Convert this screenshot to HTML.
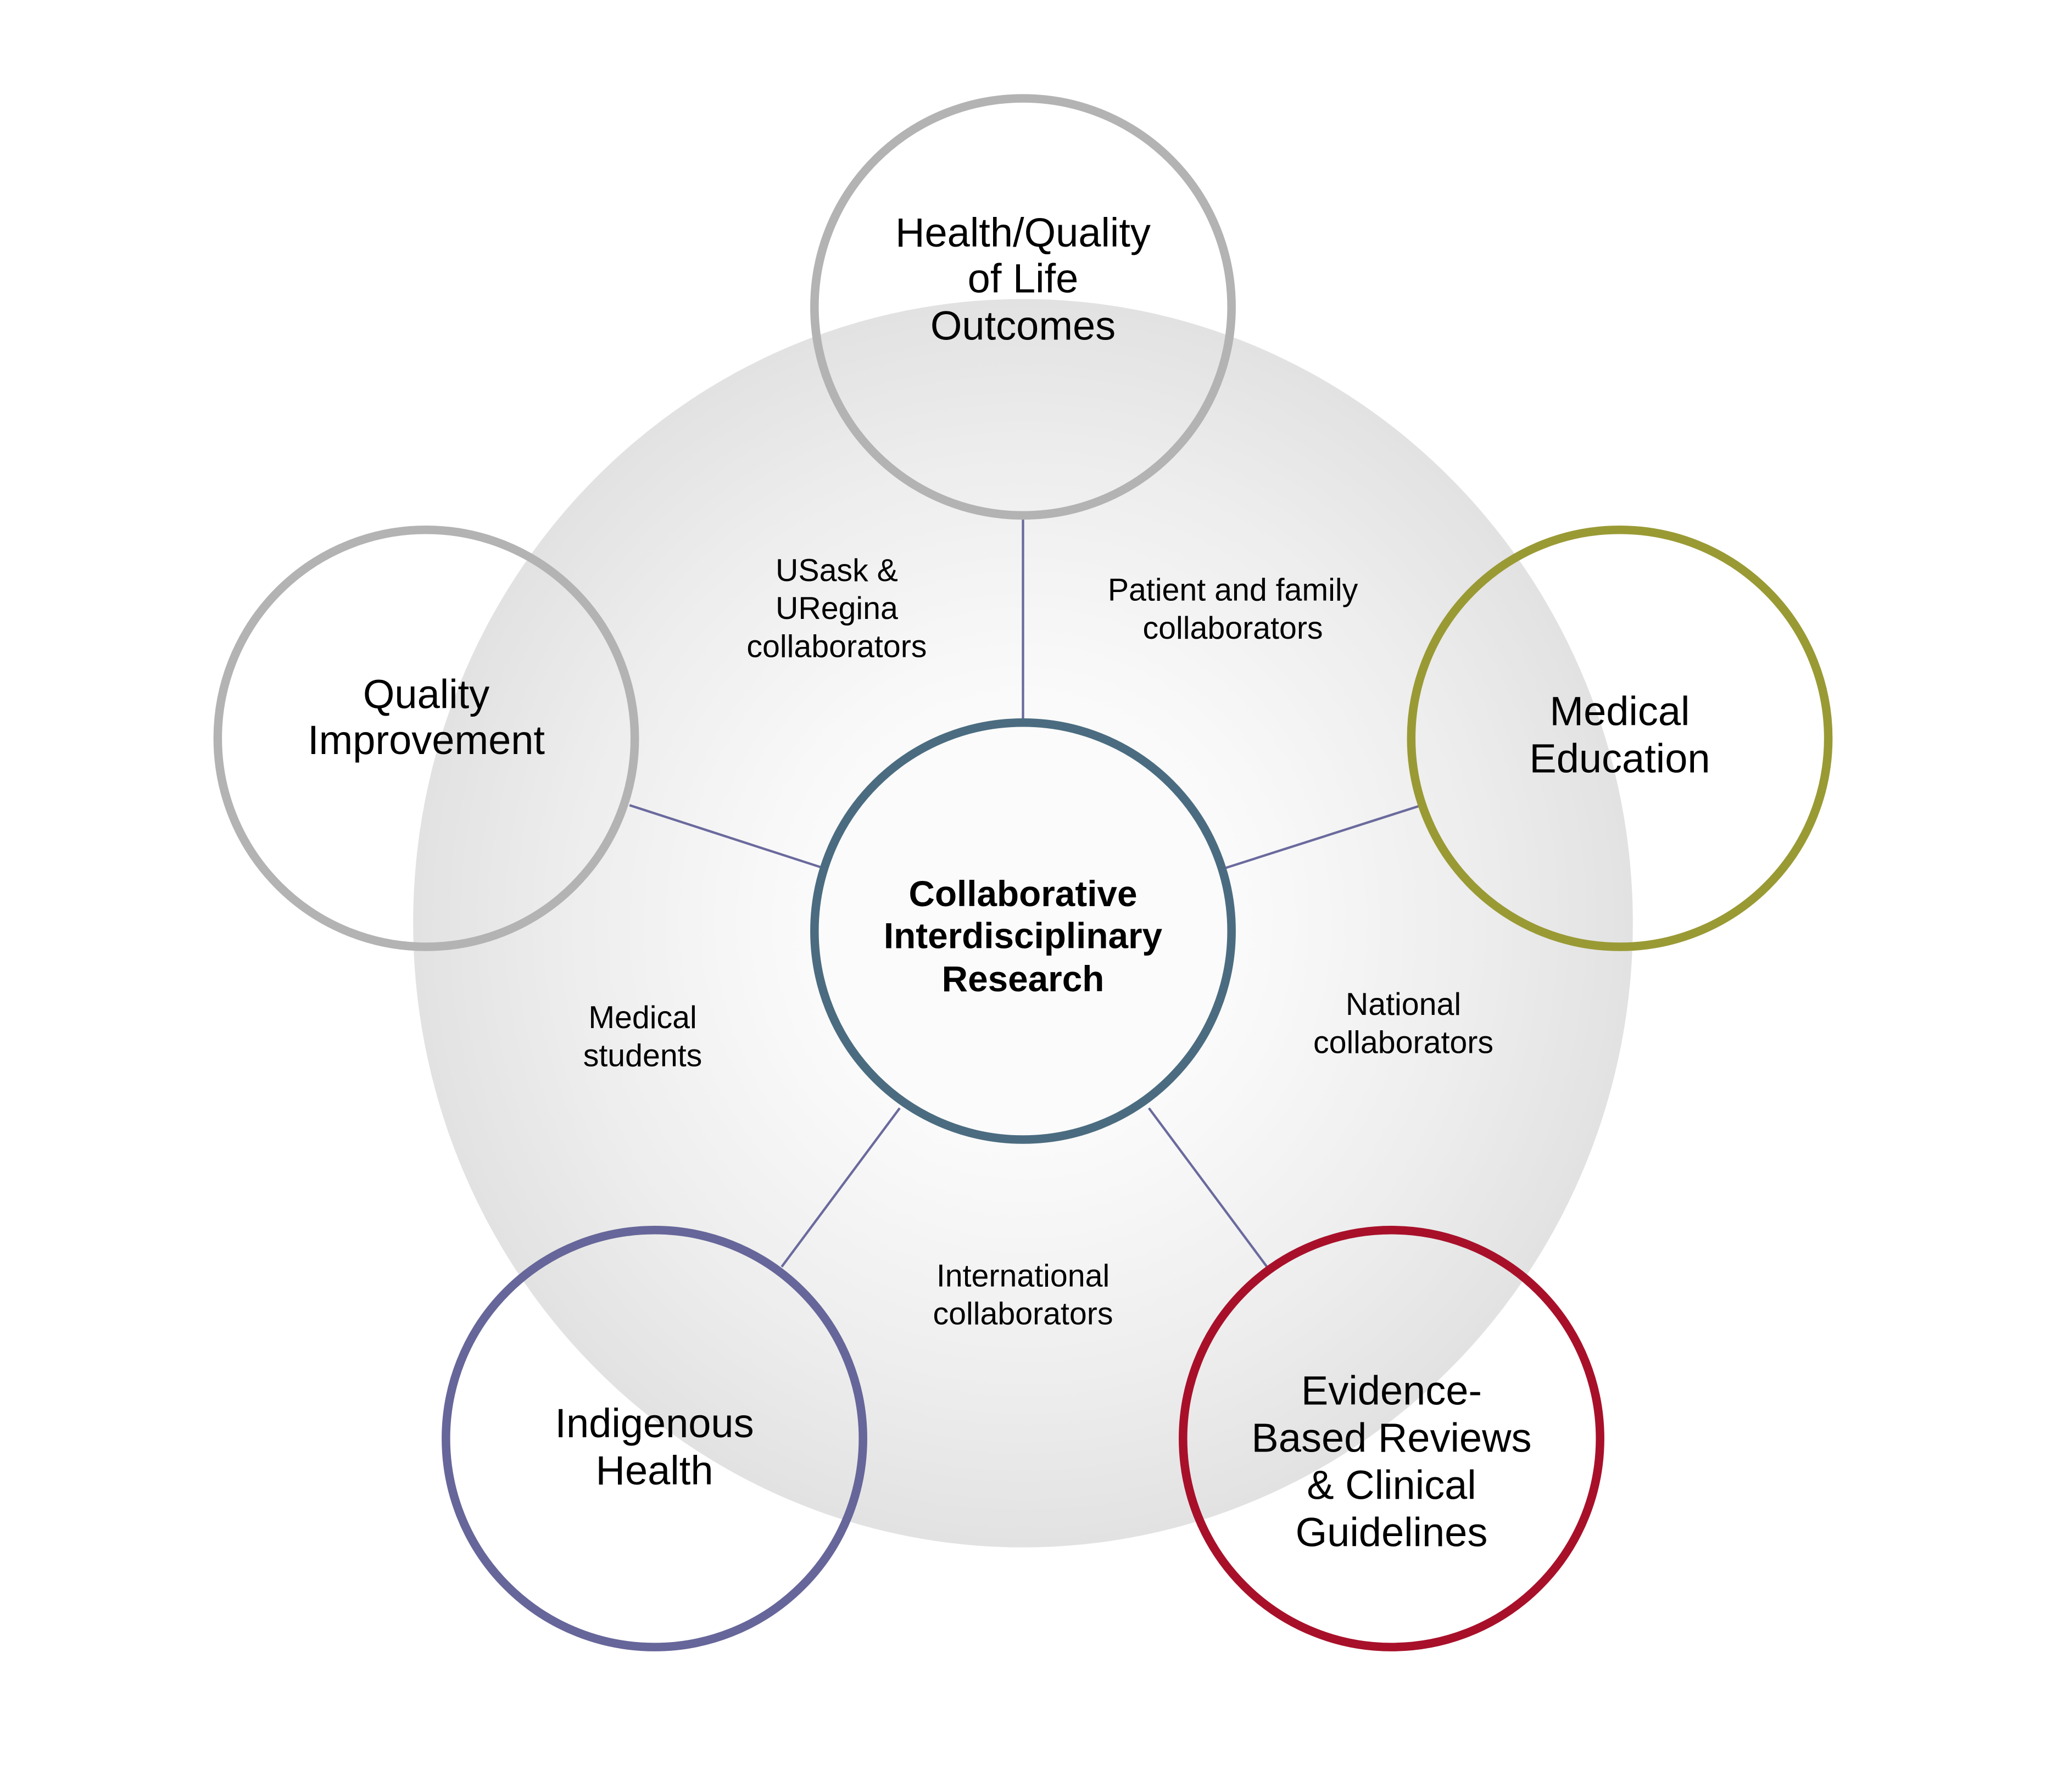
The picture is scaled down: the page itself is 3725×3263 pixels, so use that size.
<!DOCTYPE html>
<html><head><meta charset="utf-8"><style>html,body{margin:0;padding:0;background:#fff}svg{display:block}</style></head>
<body>
<svg width="3725" height="3263" viewBox="0 0 1560 1366.5" xmlns="http://www.w3.org/2000/svg" font-family="'Liberation Sans', Arial, sans-serif">
<defs>
<radialGradient id="g" cx="0.5" cy="0.5" r="0.5">
<stop offset="0" stop-color="#ffffff"/>
<stop offset="0.4" stop-color="#f9f9f9"/>
<stop offset="0.75" stop-color="#ededed"/>
<stop offset="1" stop-color="#e2e2e2"/>
</radialGradient>
</defs>
<rect width="1560" height="1366.5" fill="#fff"/>
<ellipse cx="780" cy="704" rx="465" ry="476" fill="url(#g)"/>
<g stroke="#6a6a9e" stroke-width="1.8">
<line x1="780" y1="394" x2="780" y2="550"/>
<line x1="480" y1="614" x2="628" y2="662"/>
<line x1="1084" y1="614" x2="934" y2="662"/>
<line x1="596" y1="966" x2="686" y2="845"/>
<line x1="966" y1="966" x2="876" y2="845"/>
</g>
<g fill="none" stroke-width="6.5">
<circle cx="780" cy="234" r="159" stroke="#b3b3b3"/>
<circle cx="325" cy="563" r="159" stroke="#b3b3b3"/>
<circle cx="1235" cy="563" r="159" stroke="#9a9a35"/>
<circle cx="499" cy="1097" r="159" stroke="#66669a"/>
<circle cx="1061" cy="1097" r="159" stroke="#a8102a"/>
<circle cx="780" cy="710" r="159" stroke="#4b6c80" fill="#fbfbfb"/>
</g>
<g font-size="31" text-anchor="middle" fill="#000">
<text x="780" y="188">Health/Quality</text>
<text x="780" y="223">of Life</text>
<text x="780" y="259">Outcomes</text>
<text x="325" y="540">Quality</text>
<text x="325" y="575">Improvement</text>
<text x="1235" y="553">Medical</text>
<text x="1235" y="589">Education</text>
<text x="499" y="1096">Indigenous</text>
<text x="499" y="1132">Health</text>
<text x="1061" y="1071">Evidence-</text>
<text x="1061" y="1107">Based Reviews</text>
<text x="1061" y="1143">&amp; Clinical</text>
<text x="1061" y="1179">Guidelines</text>
</g>
<g font-size="27.5" font-weight="bold" text-anchor="middle" fill="#000">
<text x="780" y="691">Collaborative</text>
<text x="780" y="723">Interdisciplinary</text>
<text x="780" y="756">Research</text>
</g>
<g font-size="24" text-anchor="middle" fill="#000">
<text x="638" y="443">USask &amp;</text>
<text x="638" y="472">URegina</text>
<text x="638" y="501">collaborators</text>
<text x="940" y="458">Patient and family</text>
<text x="940" y="487">collaborators</text>
<text x="490" y="784">Medical</text>
<text x="490" y="813">students</text>
<text x="1070" y="774">National</text>
<text x="1070" y="803">collaborators</text>
<text x="780" y="981">International</text>
<text x="780" y="1010">collaborators</text>
</g>
</svg>
</body></html>
